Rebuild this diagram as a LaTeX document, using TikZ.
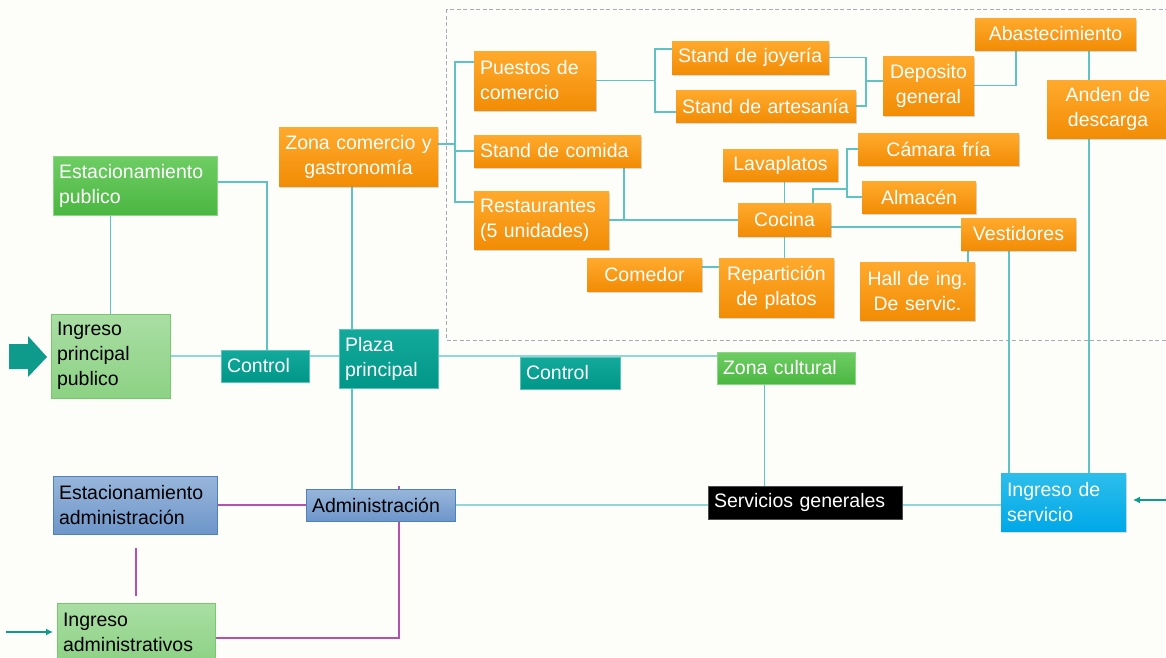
\documentclass[tikz,border=0pt]{standalone}
\usepackage{fontspec}
\setmainfont{Liberation Sans}
\usetikzlibrary{shadows,arrows.meta}
\hyphenpenalty=10000
\exhyphenpenalty=10000
\pgfdeclarelayer{back}
\pgfdeclarelayer{lines}
\pgfsetlayers{back,lines,main}
\definecolor{orT}{RGB}{255,170,45}
\definecolor{orB}{RGB}{242,140,5}
\definecolor{grT}{RGB}{110,205,100}
\definecolor{grB}{RGB}{75,183,65}
\definecolor{lgT}{RGB}{170,222,164}
\definecolor{lgB}{RGB}{140,210,132}
\definecolor{lgD}{RGB}{120,200,110}
\definecolor{tlT}{RGB}{20,170,155}
\definecolor{tlB}{RGB}{0,150,136}
\definecolor{blT}{RGB}{152,182,218}
\definecolor{blB}{RGB}{110,150,202}
\definecolor{blD}{RGB}{79,129,189}
\definecolor{cyT}{RGB}{45,190,235}
\definecolor{cyB}{RGB}{0,168,232}
\definecolor{lnc}{RGB}{95,195,195}
\definecolor{lnt}{RGB}{145,215,215}
\definecolor{purc}{RGB}{180,80,180}
\definecolor{arrc}{RGB}{15,155,140}
\definecolor{bgc}{RGB}{253,253,250}
\definecolor{dashc}{RGB}{165,172,182}
\newcommand\nbox[8]{%
  \pgfmathsetmacro\bw{#6-#4}\pgfmathsetmacro\bh{#7-#5}\pgfmathsetmacro\tw{#6-#4-12}%
  \node[#2, anchor=north west, minimum width=\bw pt, minimum height=\bh pt,
        text width=\tw pt, align=#3] (#1) at (#4,#5) {#8};}
\begin{document}
\begin{tikzpicture}[x=1pt,y=-1pt,
  nbase/.style={rectangle, inner xsep=6pt, inner ysep=1pt, outer sep=0pt,
                font=\fontsize{19.5}{25}\selectfont},
  orangeb/.style={nbase, top color=orT, bottom color=orB, text=white,
                  drop shadow={shadow xshift=1.2pt, shadow yshift=-1.6pt, opacity=0.3}},
  greenb/.style={nbase, top color=grT, bottom color=grB, draw=grT!80!white, line width=0.8pt, text=white},
  lgreenb/.style={nbase, top color=lgT, bottom color=lgB, draw=lgD, line width=0.8pt, text=black},
  tealb/.style={nbase, top color=tlT, bottom color=tlB, draw=tlT!70!white, line width=0.6pt, text=white},
  blueb/.style={nbase, top color=blT, bottom color=blB, draw=blD, line width=0.8pt, text=black},
  cyanb/.style={nbase, top color=cyT, bottom color=cyB, text=white,
                drop shadow={shadow xshift=1.2pt, shadow yshift=-1.6pt, opacity=0.25}},
  blackb/.style={nbase, fill=black, draw=black!70, text=white},
  conn/.style={draw=lnc, line width=1.1pt},
  connthick/.style={draw=lnt, line width=2pt},
  purp/.style={draw=purc, line width=1.2pt},
  arrw/.style={draw=arrc, line width=1.6pt, -{Latex[length=7pt,width=7pt]}}
]
\useasboundingbox (0,0) rectangle (1166,657);
\begin{pgfonlayer}{back}
  \fill[bgc] (0,0) rectangle (1166,657);
  \draw[dashc, line width=0.9pt, dash pattern=on 4pt off 2.5pt] (446,9) rectangle (1172,340);
  \fill[arrc] (9,344) -- (28,344) -- (28,336) -- (47,357) -- (28,377) -- (28,369) -- (9,369) -- cycle;
\end{pgfonlayer}

% orange nodes
\nbox{zcom}{orangeb}{center}{279}{127}{438}{186}{Zona~comercio~y\\gastronomía}
\nbox{puestos}{orangeb}{left}{474}{51}{596}{110}{Puestos~de\\comercio}
\nbox{joyeria}{orangeb}{left}{672}{41}{829}{74}{Stand~de~joyería}
\nbox{artesania}{orangeb}{left}{676}{90}{856}{122}{Stand~de~artesanía}
\nbox{comida}{orangeb}{left}{474}{135}{641}{167}{Stand~de~comida}
\nbox{restaur}{orangeb}{left}{474}{191}{609}{249}{Restaurantes\\(5~unidades)}
\nbox{lavap}{orangeb}{center}{723}{149}{838}{181}{Lavaplatos}
\nbox{cocina}{orangeb}{center}{738}{203}{831}{236}{Cocina}
\nbox{comedor}{orangeb}{center}{587}{258}{702}{291}{Comedor}
\nbox{repart}{orangeb}{center}{719}{258}{834}{317}{Repartición\\de~platos}
\nbox{deposito}{orangeb}{center}{883}{56}{974}{115}{Deposito\\general}
\nbox{abast}{orangeb}{center}{975}{18}{1136}{50}{Abastecimiento}
\nbox{anden}{orangeb}{center}{1047}{80}{1169}{138}{Anden~de\\descarga}
\nbox{camara}{orangeb}{center}{858}{133}{1019}{165}{Cámara~fría}
\nbox{almacen}{orangeb}{center}{862}{181}{976}{213}{Almacén}
\nbox{vest}{orangeb}{center}{961}{218}{1076}{250}{Vestidores}
\nbox{hall}{orangeb}{center}{860}{262}{975}{320}{Hall~de~ing.\\De~servic.}
% other nodes
\nbox{estpub}{greenb}{left}{53}{156}{217}{215}{Estacionamiento\\publico}
\nbox{ingpub}{lgreenb}{left}{51}{314}{170}{398}{Ingreso\\principal\\publico}
\nbox{ctrlA}{tealb}{left}{221}{350}{309}{382}{Control}
\nbox{plaza}{tealb}{left}{339}{329}{438}{388}{Plaza\\principal}
\nbox{ctrlB}{tealb}{left}{520}{357}{620}{389}{Control}
\nbox{zcult}{greenb}{left}{717}{352}{855}{384}{Zona~cultural}
\nbox{servgen}{blackb}{left}{708}{486}{902}{519}{Servicios~generales}
\nbox{ingserv}{cyanb}{left}{1001}{473}{1126}{531}{Ingreso~de\\servicio}
\nbox{estadm}{blueb}{left}{53}{476}{217}{534}{Estacionamiento\\administración}
\nbox{admin}{blueb}{left}{306}{489}{455}{521}{Administración}
\nbox{ingadm}{lgreenb}{left}{57}{603}{215}{662}{Ingreso\\administrativos}

% junction coordinates
\coordinate (jA) at (267,182);
\coordinate (vC) at (352,0);
\coordinate (jD) at (455,144);
\coordinate (b1) at (455,62);
\coordinate (b3) at (455,202);
\coordinate (e1) at (655,49);
\coordinate (e2) at (655,112);
\coordinate (jF) at (866,81);
\coordinate (jG) at (1016,85);
\coordinate (jH) at (1089,0);
\coordinate (jI) at (624,219);
\coordinate (jJ) at (710,267);
\coordinate (k1) at (813,189);
\coordinate (k2) at (847,189);
\coordinate (jL) at (900,227);
\coordinate (jM) at (968,0);
\coordinate (jN) at (1009,0);
\coordinate (jO) at (764.5,0);
\coordinate (pv) at (136,0);
\coordinate (jP) at (399,638);
\coordinate (inS) at (1170,500);
\coordinate (inA) at (6,632);

\begin{pgfonlayer}{lines}
  \draw[conn] (estpub.east |- jA) -- (jA) -- (jA |- ctrlA.north);
  \draw[conn] (ingpub.north) -- (ingpub.north |- estpub.south);
  \draw[connthick] (ingpub.east) -- (ingpub.east -| zcult.west);
  \draw[conn] (vC |- zcom.south) -- (vC |- admin.north);
  \draw[conn] (zcom.east |- jD) -- (jD);
  \draw[conn] (b1 -| puestos.west) -- (b1) -- (b3) -- (b3 -| restaur.west);
  \draw[conn] (comida.west -| b1) -- (comida.west);
  \draw[conn] (puestos.east) -- (puestos.east -| e1);
  \draw[conn] (e1 -| joyeria.west) -- (e1) -- (e2) -- (e2 -| artesania.west);
  \draw[conn] (joyeria.east) -- (joyeria.east -| jF) -- (jF |- artesania.east) -- (artesania.east);
  \draw[conn] (jF) -- (jF -| deposito.west);
  \draw[conn] (deposito.east) -- (deposito.east -| jG) -- (jG |- abast.south);
  \draw[conn] (jH |- abast.south) -- (jH |- ingserv.north);
  \draw[conn] (jI |- comida.south) -- (jI);
  \draw[conn] (restaur.east) -- (restaur.east -| cocina.west);
  \draw[conn] (cocina.north) -- (cocina.north |- lavap.south);
  \draw[conn] (cocina.south) -- (cocina.south |- repart.north);
  \draw[conn] (jJ -| comedor.east) -- (jJ -| repart.west);
  \draw[conn] (k1 |- cocina.north) -- (k1) -- (k2);
  \draw[conn] (camara.west) -- (camara.west -| k2) -- (k2 |- almacen.west) -- (almacen.west);
  \draw[conn] (jL -| cocina.east) -- (jL -| vest.west);
  \draw[conn] (jM |- vest.south) -- (jM |- hall.north);
  \draw[conn] (jN |- vest.south) -- (jN |- ingserv.north);
  \draw[conn] (jO |- zcult.south) -- (jO |- servgen.north);
  \draw[connthick] (admin.east) -- (admin.east -| servgen.west);
  \draw[connthick] (servgen.east |- admin.east) -- (ingserv.west |- admin.east);
  \draw[purp] (estadm.east) -- (estadm.east -| admin.west);
  \draw[purp] (pv |- estadm.south) ++(0,14) -- ++(0,48);
  \draw[purp] (ingadm.east |- jP) -- (jP) -- (jP |- admin.north) -- ++(0,-3);
  \draw[arrw, shorten >=7pt] (inS) -- (ingserv.east |- inS);
  \draw[arrw, shorten >=4pt] (inA) -- (inA -| ingadm.west);
\end{pgfonlayer}
\end{tikzpicture}
\end{document}
